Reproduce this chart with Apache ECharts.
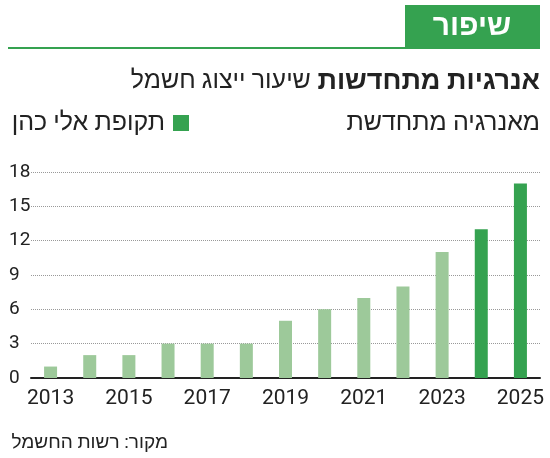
<!DOCTYPE html><html><head><meta charset="utf-8"><script src="https://cdn.jsdelivr.net/npm/echarts@6/dist/echarts.min.js"></script>
<style>html,body{margin:0;background:#fff}#c{width:550px;height:458px}</style></head><body><div id="c"></div><script>
const years=['2013','2014','2015','2016','2017','2018','2019','2020','2021','2022','2023','2024','2025'];
const values=[1,2,2,3,3,3,5,6,7,8,11,13,17];
const cohenYears=['2024','2025'];
const yTicks=[0,3,6,9,12,15,18];
const F="'Roboto',sans-serif";
const light='#9dc99a',dark='#35a250';
const c=echarts.init(document.getElementById('c'));
c.setOption({animation:false,
grid:{left:31,right:10,top:172,bottom:80},
xAxis:{type:'category',data:years,axisTick:{show:false},axisLine:{lineStyle:{color:'#222',width:2}},
 axisLabel:{interval:1,fontFamily:F,fontSize:21,color:'#222',margin:10}},
yAxis:{type:'value',min:0,max:18,interval:3,axisLabel:{fontFamily:F,fontSize:19,color:'#222',margin:22,align:'left',formatter:v=>yTicks.includes(v)?String(v):''},
 splitLine:{lineStyle:{type:'dotted',color:'#999'}}},
series:[{type:'bar',barWidth:13,data:values.map((v,i)=>({value:v,itemStyle:{color:cohenYears.includes(years[i])?dark:light}}))}],
graphic:[
 {type:'rect',shape:{x:405,y:5,width:135,height:43},style:{fill:dark}},
 {type:'text',x:472,y:27,style:{text:'שיפור',font:"bold 30px "+F,fill:'#fff',align:'center',verticalAlign:'middle'}},
 {type:'line',shape:{x1:8,y1:48,x2:540,y2:48},style:{stroke:dark,lineWidth:2}},
 {type:'text',x:540,y:82,style:{rich:{b:{font:"bold 27px "+F,fill:'#222'},n:{font:"25px "+F,fill:'#222'}},text:'{n|שיעור ייצוג חשמל}  {b|אנרגיות מתחדשות}',align:'right',verticalAlign:'middle'}},
 {type:'text',x:540,y:124,style:{text:'מאנרגיה מתחדשת',font:"25px "+F,fill:'#222',align:'right',verticalAlign:'middle'}},
 {type:'rect',shape:{x:173,y:115,width:16,height:16},style:{fill:dark}},
 {type:'text',x:165,y:124,style:{text:'תקופת אלי כהן',font:"25px "+F,fill:'#222',align:'right',verticalAlign:'middle'}},
 {type:'text',x:168,y:443,style:{text:'מקור: רשות החשמל',font:"19px "+F,fill:'#222',align:'right',verticalAlign:'middle'}}
]});
</script></body></html>
